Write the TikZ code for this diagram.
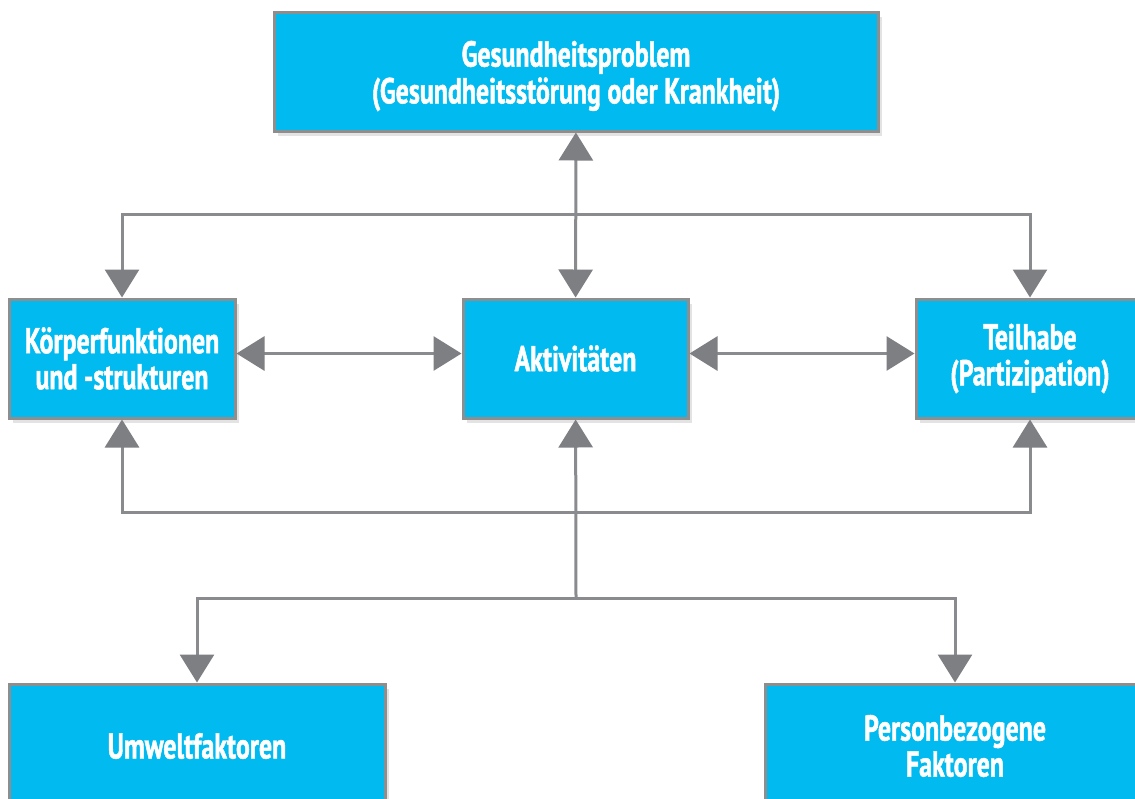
\documentclass[tikz,border=0pt]{standalone}
\usepackage{fontspec}
\setmainfont{PT Sans}[FakeStretch=0.72, BoldFeatures={FakeBold=1.3}]
\usetikzlibrary{arrows.meta,shadows}
\definecolor{boxfill}{HTML}{00BAF0}
\definecolor{boxline}{HTML}{8E8E8E}
\definecolor{conn}{HTML}{8A8B8E}
\definecolor{tip}{HTML}{7E7F83}
\tikzset{
  box/.style={draw=boxline, line width=3pt, fill=boxfill, text=white, align=center,
    font=\fontsize{36}{36}\selectfont\bfseries,
    drop shadow={opacity=0.22, shadow xshift=4pt, shadow yshift=-5pt}},
  conn/.style={draw=conn, line width=3pt},
  arr/.style={conn, -{Triangle[length=28pt 0, width=34pt 0, fill=tip, color=tip]}},
  biarr/.style={conn, {Triangle[length=28pt 0, width=34pt 0, fill=tip, color=tip]}-{Triangle[length=28pt 0, width=34pt 0, fill=tip, color=tip]}}
}
\begin{document}
\begin{tikzpicture}[x=1pt,y=-1pt]
\useasboundingbox (0,0) rectangle (1135,798);
\fill[white] (0,0) rectangle (1135,798);
\node[box, minimum width=604pt, minimum height=119pt] (top) at (576,71.5)
  {\raisebox{-6pt}[\height][\depth]{\begin{tabular}{@{}c@{}}Gesundheitsproblem\\(Gesundheitsstörung oder Krankheit)\end{tabular}}};
\node[box, minimum width=226pt, minimum height=119pt] (kor) at (122,358.5)
  {Körperfunktionen\\und -strukturen};
\node[box, minimum width=225pt, minimum height=119pt] (akt) at (575.5,358.5)
  {Aktivitäten};
\node[box, minimum width=228pt, minimum height=119pt] (teil) at (1030,358.5)
  {Teilhabe\\(Partizipation)};
\node[box, minimum width=376pt, minimum height=124pt] (umw) at (197,746)
  {Umweltfaktoren};
\node[box, minimum width=380pt, minimum height=124pt] (pers) at (955,746)
  {Personbezogene\\Faktoren};
\coordinate (b1) at (576,214);
\coordinate (b3) at (576,512);
\coordinate (b2) at (576,598);
\draw[biarr] (top) -- (akt);
\draw[arr] (b1) -| (kor);
\draw[arr] (b1) -| (teil);
\draw[biarr] ([yshift=5pt]kor.east) -- ([yshift=5pt]akt.west);
\draw[biarr] ([yshift=5pt]akt.east) -- ([yshift=5pt]teil.west);
\draw[arr] (b2) -- (akt);
\draw[arr] (b3) -| (kor);
\draw[arr] (b3) -| (teil);
\draw[arr] (b2) -| (umw);
\draw[arr] (b2) -| (pers);
\end{tikzpicture}
\end{document}
